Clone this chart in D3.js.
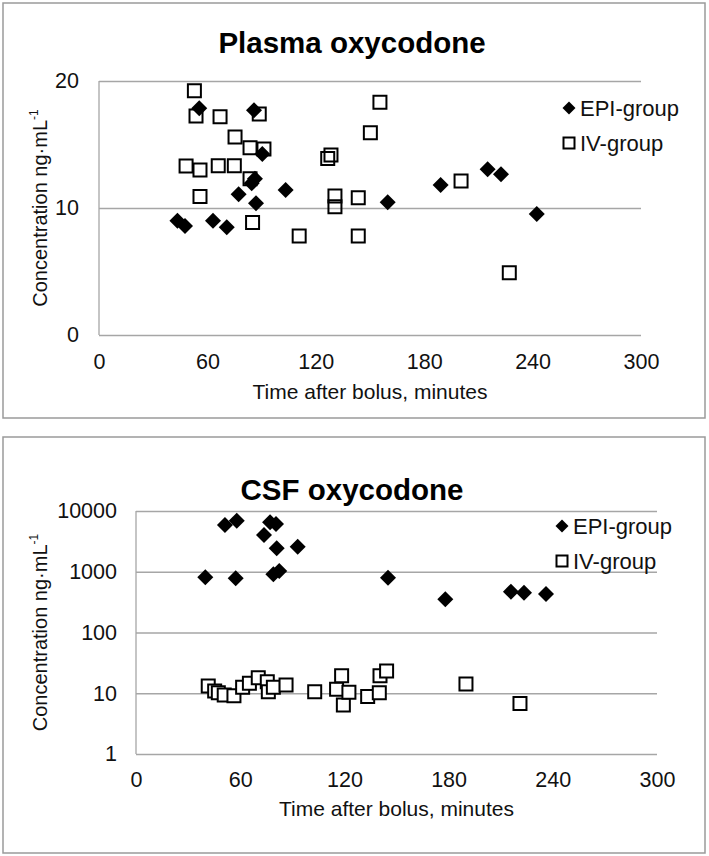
<!DOCTYPE html>
<html>
<head>
<meta charset="utf-8">
<script src="https://cdn.jsdelivr.net/npm/d3@7"></script>
<style>
  html, body { margin: 0; padding: 0; background: #fff; }
  svg { display: block; font-family: "Liberation Sans", Arial, sans-serif; }
</style>
</head>
<body>
<svg id="chart" width="709" height="856"></svg>
<script>
// ---------------- DATA ----------------
const seriesNames = ["EPI-group", "IV-group"];
const xTicks = [0, 60, 120, 180, 240, 300];

// Plasma oxycodone (ng/mL) vs time (min)
const plasmaTicks = [0, 10, 20];
const plasmaEpiTime  = [55.5, 85.8, 90.4, 86.3, 84.5, 77.3, 103.3, 86.9, 43.4, 47.6, 63.1, 70.7, 159.8, 189.1, 215.1, 222.5, 242.3];
const plasmaEpiConc  = [17.85, 17.7, 14.25, 12.3, 11.94, 11.08, 11.42, 10.37, 9.0, 8.58, 9.0, 8.48, 10.45, 11.81, 13.05, 12.65, 9.53];
const plasmaIvTime   = [52.8, 53.7, 67, 88.7, 75.3, 83.6, 91.3, 48.2, 55.9, 66, 74.9, 83.6, 55.9, 85, 110.8, 155.5, 150.2, 126.6, 128.4, 130.6, 130.6, 143.5, 143.5, 200.4, 227.1];
const plasmaIvConc   = [19.24, 17.24, 17.19, 17.4, 15.6, 14.75, 14.65, 13.3, 13.0, 13.33, 13.33, 12.3, 10.9, 8.85, 7.8, 18.32, 15.93, 13.9, 14.17, 10.94, 10.1, 10.8, 7.8, 12.13, 4.9];

// CSF oxycodone (ng/mL, log scale) vs time (min)
const csfTicks = [1, 10, 100, 1000, 10000];
const csfEpiTime = [39.9, 51.2, 58, 57.4, 73.7, 77.2, 80.6, 81, 93.1, 79.1, 82.5, 145.1, 178.1, 215.9, 223.4, 236.1];
const csfEpiConc = [811, 5888, 6920, 780, 4030, 6510, 6110, 2430, 2590, 908, 1028, 798, 352, 470, 452, 430];
const csfIvTime  = [41.6, 45.3, 47.4, 50.8, 56.4, 61.4, 65.3, 70.4, 75.6, 76.2, 79.1, 86.4, 102.9, 115.5, 118.4, 119.4, 122.6, 133.4, 140.1, 140.5, 144.3, 190, 221.1];
const csfIvConc  = [13.2, 10.9, 10.2, 9.36, 9.1, 12.5, 14.6, 18, 15.5, 10.6, 12.5, 13.7, 10.6, 11.6, 19.4, 6.4, 10.4, 8.8, 10.2, 19.4, 23.2, 14.2, 6.8];

// ---------------- DRAW ----------------
const svg = d3.select("#chart");
const FONT = "'Liberation Sans', Arial, sans-serif";
const GRID = "#a6a6a6";

function zip(xs, ys) { return xs.map((x, i) => ({ x, y: ys[i] })); }

const diamondPath = d3.symbol().type(d3.symbolSquare).size(128)();
const squarePath = d3.symbol().type(d3.symbolSquare).size(169)();
const legDiamond = d3.symbol().type(d3.symbolSquare).size(84)();
const legSquare = d3.symbol().type(d3.symbolSquare).size(121)();

function panel(cfg) {
  const g = svg.append("g");
  // outer frame
  g.append("rect")
    .attr("x", cfg.box[0]).attr("y", cfg.box[1])
    .attr("width", cfg.box[2]).attr("height", cfg.box[3])
    .attr("fill", "#fff").attr("stroke", "#9a9a9a").attr("stroke-width", 1.5);

  const x = d3.scaleLinear().domain([0, 300]).range([cfg.left, cfg.right]);
  const y = cfg.y;
  const plotW = cfg.right - cfg.left;

  // y axis with gridlines
  const ya = g.append("g")
    .attr("transform", `translate(${cfg.left},0)`)
    .call(d3.axisLeft(y).tickValues(cfg.yTicks).tickFormat(d3.format("d"))
      .tickSize(-plotW).tickPadding(cfg.yPad));
  ya.select(".domain").remove();
  ya.selectAll(".tick line").attr("stroke", GRID).attr("stroke-width", 1.3);
  ya.selectAll(".tick text").attr("font-family", FONT).attr("font-size", 21.5).attr("fill", "#111");

  // left vertical axis line
  g.append("line")
    .attr("x1", cfg.left).attr("x2", cfg.left)
    .attr("y1", y.range()[1]).attr("y2", y.range()[0])
    .attr("stroke", GRID).attr("stroke-width", 1.3);

  // x axis labels
  const xa = g.append("g")
    .attr("transform", `translate(0,${y.range()[0]})`)
    .call(d3.axisBottom(x).tickValues(xTicks).tickSize(0).tickPadding(cfg.xPad));
  xa.select(".domain").remove();
  xa.selectAll(".tick text").attr("font-family", FONT).attr("font-size", 21.5).attr("fill", "#111");

  // title
  g.append("text")
    .attr("x", cfg.titleX).attr("y", cfg.titleY)
    .attr("text-anchor", "middle")
    .attr("font-family", FONT).attr("font-size", 29.5).attr("font-weight", "bold")
    .attr("fill", "#000")
    .text(cfg.title);

  // x axis title
  g.append("text")
    .attr("x", (cfg.left + cfg.right) / 2).attr("y", cfg.xTitleY)
    .attr("text-anchor", "middle")
    .attr("font-family", FONT).attr("font-size", 21).attr("fill", "#111")
    .text("Time after bolus, minutes");

  // y axis title
  const cy = (y.range()[0] + y.range()[1]) / 2;
  const yt = g.append("text")
    .attr("transform", `translate(${cfg.yTitleX},${cy}) rotate(-90)`)
    .attr("text-anchor", "middle")
    .attr("font-family", FONT).attr("font-size", 20).attr("fill", "#111");
  yt.append("tspan").text("Concentration ng\u00B7mL");
  yt.append("tspan").attr("font-size", 12).attr("dy", -9).text("-1");

  // IV squares (drawn first)
  g.append("g").selectAll("path")
    .data(zip(cfg.ivT, cfg.ivC))
    .join("path")
    .attr("d", squarePath)
    .attr("transform", d => `translate(${x(d.x)},${y(d.y)})`)
    .attr("fill", cfg.sqFill).attr("stroke", "#000").attr("stroke-width", 2);

  // EPI diamonds
  g.append("g").selectAll("path")
    .data(zip(cfg.epiT, cfg.epiC))
    .join("path")
    .attr("d", diamondPath)
    .attr("transform", d => `translate(${x(d.x)},${y(d.y)}) rotate(45)`)
    .attr("fill", "#000");

  // legend
  const lg = g.append("g");
  lg.append("path").attr("d", legDiamond)
    .attr("transform", `translate(${cfg.legX},${cfg.legY[0]}) rotate(45)`).attr("fill", "#000");
  lg.append("path").attr("d", legSquare)
    .attr("transform", `translate(${cfg.legX},${cfg.legY[1]})`)
    .attr("fill", "#fff").attr("stroke", "#000").attr("stroke-width", 2);
  seriesNames.forEach((n, i) => {
    lg.append("text")
      .attr("x", cfg.legX + 11).attr("y", cfg.legY[i])
      .attr("dy", "0.35em")
      .attr("font-family", FONT).attr("font-size", 22).attr("fill", "#111")
      .text(n);
  });
}

panel({
  box: [3, 3, 702, 415],
  left: 99, right: 641,
  y: d3.scaleLinear().domain([0, 20]).range([335, 81]),
  yTicks: plasmaTicks, yPad: 20, xPad: 19,
  title: "Plasma oxycodone", titleX: 352, titleY: 53,
  xTitleY: 399, yTitleX: 47,
  ivT: plasmaIvTime, ivC: plasmaIvConc,
  epiT: plasmaEpiTime, epiC: plasmaEpiConc,
  sqFill: "none",
  legX: 569, legY: [108, 143]
});

panel({
  box: [3, 437, 702, 416],
  left: 136, right: 657,
  y: d3.scaleLog().domain([1, 10000]).range([754, 511]),
  yTicks: csfTicks, yPad: 19, xPad: 18,
  title: "CSF oxycodone", titleX: 352, titleY: 500,
  xTitleY: 816, yTitleX: 47,
  ivT: csfIvTime, ivC: csfIvConc,
  epiT: csfEpiTime, epiC: csfEpiConc,
  sqFill: "#fff",
  legX: 562, legY: [526, 561]
});
</script>
</body>
</html>
